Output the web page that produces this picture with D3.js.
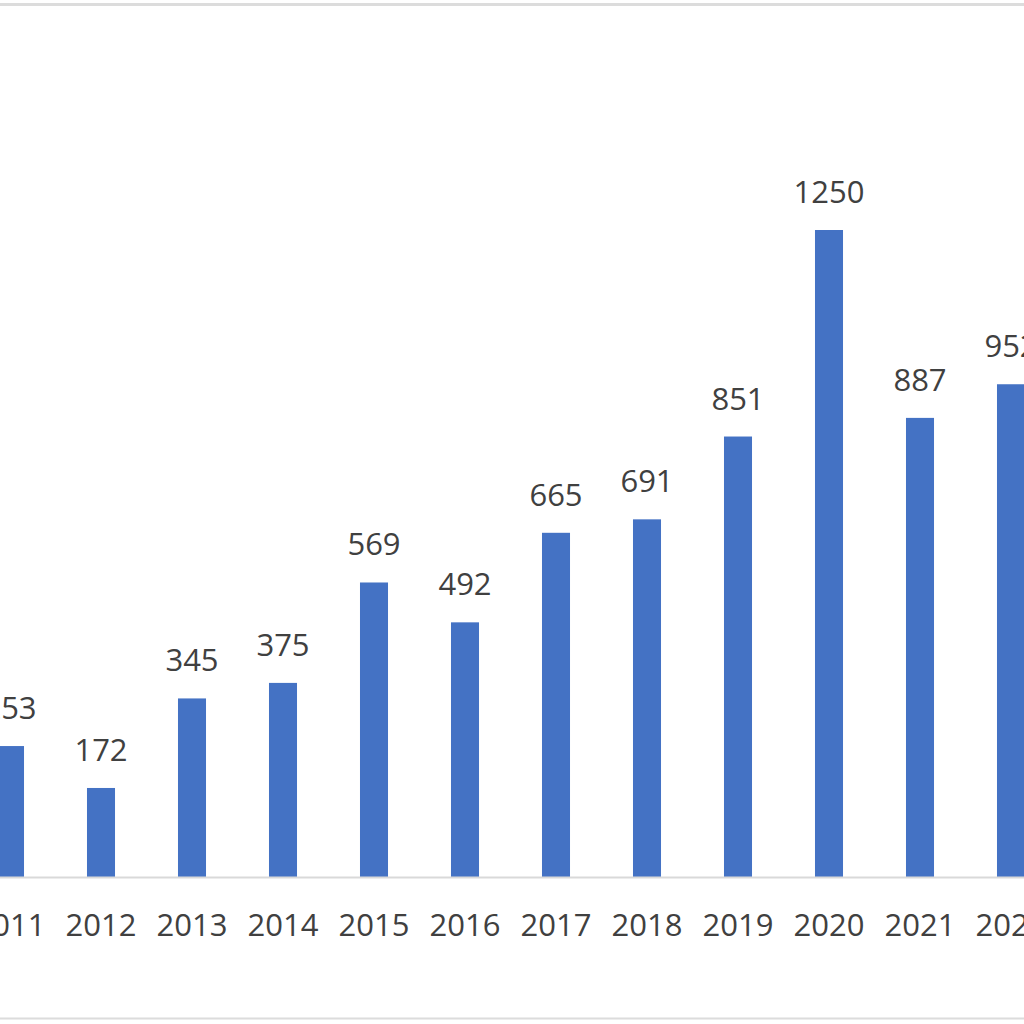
<!DOCTYPE html>
<html>
<head>
<meta charset="utf-8">
<script src="https://cdn.jsdelivr.net/npm/d3@7"></script>
<style>
  html, body { margin: 0; padding: 0; background: #fff; }
  svg { display: block; }
  text { font-family: "Open Sans", sans-serif; fill: #404040; }
</style>
</head>
<body>
<svg id="canvas" width="1024" height="1024"></svg>
<script>
// yearly counts (2011 and 2022 are cut at the edges)
var years = ['2011', '2012', '2013', '2014', '2015', '2016', '2017', '2018', '2019', '2020', '2021', '2022'];
var counts = [253, 172, 345, 375, 569, 492, 665, 691, 851, 1250, 887, 952];

var svg = d3.select('#canvas');
var width = 1024;
var baseY = 877;

// the chart is wider than the window, so the band range runs off both sides
var x = d3.scaleBand()
  .domain(years)
  .range([-35.5, 1056.5])
  .paddingInner(0.692)
  .paddingOuter(0.346);

var y = d3.scaleLinear()
  .domain([0, 1250])
  .range([baseY, 230]);

var data = years.map(function(yr, i) { return { year: yr, value: counts[i] }; });

// frame lines top and bottom
svg.append('line')
  .attr('x1', 0).attr('x2', width)
  .attr('y1', 4.5).attr('y2', 4.5)
  .attr('stroke', '#dcdcdc').attr('stroke-width', 3);
svg.append('line')
  .attr('x1', 0).attr('x2', width)
  .attr('y1', 1018.5).attr('y2', 1018.5)
  .attr('stroke', '#dcdcdc').attr('stroke-width', 2);

svg.selectAll('.bar')
  .data(data)
  .enter()
  .append('rect')
  .attr('class', 'bar')
  .attr('x', function(d) { return x(d.year); })
  .attr('width', x.bandwidth())
  .attr('y', function(d) { return y(d.value); })
  .attr('height', function(d) { return baseY - y(d.value); })
  .attr('fill', '#4472C4');

// baseline
svg.append('line')
  .attr('x1', 0).attr('x2', width)
  .attr('y1', baseY + 0.5).attr('y2', baseY + 0.5)
  .attr('stroke', '#d9d9d9').attr('stroke-width', 2);

// value labels
svg.selectAll('.val')
  .data(data)
  .enter()
  .append('text')
  .attr('class', 'val')
  .attr('x', function(d) { return x(d.year) + x.bandwidth() / 2; })
  .attr('y', function(d) { return y(d.value) - 27; })
  .attr('text-anchor', 'middle')
  .style('font-size', '31px')
  .text(function(d) { return d.value; });

// category axis, ticks hidden
var xAxis = svg.append('g')
  .attr('transform', 'translate(0,' + baseY + ')')
  .call(d3.axisBottom(x).tickSize(0).tickPadding(0));
xAxis.select('.domain').remove();
xAxis.selectAll('text')
  .attr('y', 59)
  .attr('dy', 0)
  .style('font-size', '31px')
  .style('font-family', '"Open Sans", sans-serif')
  .attr('fill', '#404040');
</script>
</body>
</html>
